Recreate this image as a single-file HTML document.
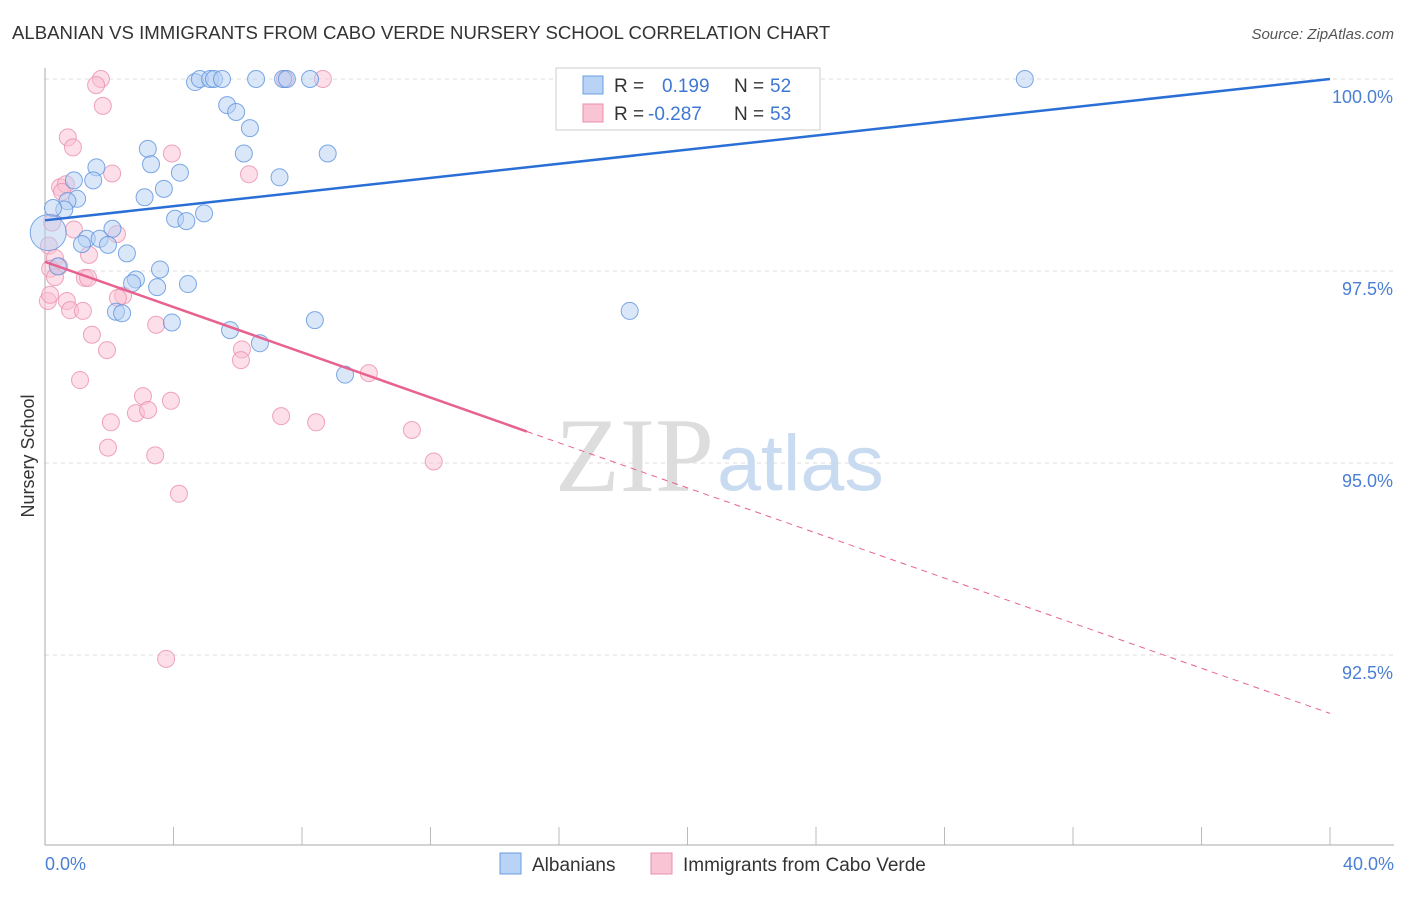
<!DOCTYPE html>
<html><head><meta charset="utf-8"><style>
body{margin:0;background:#fff;font-family:"Liberation Sans",sans-serif;}
</style></head><body>
<svg width="1406" height="892" xmlns="http://www.w3.org/2000/svg">
<text x="12" y="39" font-size="18.6" fill="#333">ALBANIAN VS IMMIGRANTS FROM CABO VERDE NURSERY SCHOOL CORRELATION CHART</text>
<text x="1394" y="39" font-size="15" fill="#555" font-style="italic" text-anchor="end">Source: ZipAtlas.com</text>
<g id="grid"></g>
<text x="714" y="491" font-size="106" fill="#ddd" font-family="Liberation Serif,serif" text-anchor="end">ZIP</text>
<text x="717" y="490" font-size="79" fill="#c9dbf0">atlas</text>
<line x1="45" y1="68" x2="45" y2="845" stroke="#aaa"/>
<line x1="45" y1="845" x2="1394" y2="845" stroke="#aaa"/>
<text x="34" y="456" font-size="18" fill="#333" transform="rotate(-90 34 456)" text-anchor="middle">Nursery School</text>
<text x="45" y="870" font-size="18" fill="#4a7fd4">0.0%</text>
<text x="1394" y="870" font-size="18" fill="#4a7fd4" text-anchor="end">40.0%</text>
<g id="pts"></g>
<g id="lines"></g>
<g>
<rect x="556" y="68" width="264" height="62" fill="#fff" stroke="#ccc"/>
<rect x="583" y="76" width="20" height="18" fill="#b8d3f5" stroke="#6a9ee0"/>
<rect x="583" y="104" width="20" height="18" fill="#f9c5d5" stroke="#ea8fae"/>
<text x="614" y="92" font-size="19" fill="#333">R =</text><text x="662" y="92" font-size="19" fill="#3f78d4">0.199</text>
<text x="734" y="92" font-size="19" fill="#333">N =</text><text x="770" y="92" font-size="19" fill="#3f78d4">52</text>
<text x="614" y="120" font-size="19" fill="#333">R =</text><text x="648" y="120" font-size="19" fill="#3f78d4">-0.287</text>
<text x="734" y="120" font-size="19" fill="#333">N =</text><text x="770" y="120" font-size="19" fill="#3f78d4">53</text>
</g>
<g>
<rect x="500" y="853" width="21" height="21" fill="#b8d3f5" stroke="#6a9ee0"/>
<text x="532" y="871" font-size="19" fill="#333">Albanians</text>
<rect x="651" y="853" width="21" height="21" fill="#f9c5d5" stroke="#ea8fae"/>
<text x="683" y="871" font-size="19" fill="#333">Immigrants from Cabo Verde</text>
</g>
</svg>
<script>
const yTicks=[100,97.5,95,92.5];
const yTickLabels=["100.0%","97.5%","95.0%","92.5%"];
const blueX=[4.67,4.82,5.14,5.26,5.51,6.57,7.41,7.53,8.25,30.5,5.67,5.95,6.38,3.2,6.19,3.3,8.8,1.6,4.2,7.3,0.9,1.5,3.7,3.1,1.0,0.7,0.6,0.25,4.95,4.05,4.4,2.1,1.3,1.7,1.15,1.96,2.55,0.1,3.58,2.83,0.4,2.71,3.49,4.45,2.21,2.4,18.2,3.95,8.4,5.76,6.69,9.34];
const blueY=[99.96,100,100,100,100,100,100,100,100,100,99.66,99.57,99.36,99.09,99.03,98.89,99.03,98.85,98.78,98.72,98.68,98.68,98.57,98.46,98.44,98.41,98.3,98.32,98.25,98.18,98.15,98.05,97.92,97.92,97.85,97.84,97.73,98.0,97.52,97.39,97.56,97.34,97.29,97.33,96.97,96.95,96.98,96.83,96.86,96.73,96.56,96.15];
const pinkX=[1.74,1.59,8.65,7.47,1.8,0.71,0.87,3.95,6.35,2.09,0.47,0.65,0.53,0.22,0.9,2.24,0.12,0.31,1.37,0.44,0.16,1.24,1.34,0.31,2.43,2.27,0.68,0.09,0.16,0.78,1.18,1.46,3.46,1.93,6.13,6.1,10.08,1.09,3.05,2.05,2.83,3.21,3.92,7.35,8.44,11.42,1.96,3.43,12.1,4.17,3.77];
const pinkY=[100,99.92,100,100,99.65,99.24,99.11,99.03,98.76,98.77,98.59,98.63,98.53,98.13,98.04,97.98,97.83,97.67,97.71,97.56,97.53,97.41,97.41,97.42,97.18,97.15,97.11,97.11,97.19,96.99,96.98,96.67,96.8,96.47,96.48,96.34,96.17,96.08,95.87,95.53,95.65,95.69,95.81,95.61,95.53,95.43,95.2,95.1,95.02,94.6,92.45];
const blueTrend=[0,98.16,40,100];
const pinkTrend=[0,97.62,15,95.41,40,91.74];
const X=v=>45+v/40*1285, Y=v=>79+(100-v)/2.5*192;
const NS="http://www.w3.org/2000/svg";
const grid=document.getElementById('grid');
yTicks.forEach((t,i)=>{
 const l=document.createElementNS(NS,'line');
 l.setAttribute('x1',45);l.setAttribute('x2',1394);l.setAttribute('y1',Y(t));l.setAttribute('y2',Y(t));
 l.setAttribute('stroke','#ddd');l.setAttribute('stroke-dasharray','4,4');
 
 
 grid.appendChild(l);
 const tx=document.createElementNS(NS,'text');
 tx.setAttribute('x',1393);tx.setAttribute('y',Y(t)+24);tx.setAttribute('text-anchor','end');
 tx.setAttribute('font-size','18');tx.setAttribute('fill','#4a7fd4');tx.textContent=yTickLabels[i];
 
 
 grid.appendChild(tx);
});
for(let i=1;i<=10;i++){
 const l=document.createElementNS(NS,'line');const x=45+i*128.5;
 l.setAttribute('x1',x);l.setAttribute('x2',x);l.setAttribute('y1',827);l.setAttribute('y2',845);l.setAttribute('stroke','#bbb');
 
 
 grid.appendChild(l);
}
const pts=document.getElementById('pts');
function dot(x,y,r,fill,stroke,name){
 const c=document.createElementNS(NS,'circle');
 c.setAttribute('cx',X(x));c.setAttribute('cy',Y(y));c.setAttribute('r',r);
 c.setAttribute('fill',fill);c.setAttribute('fill-opacity','0.5');c.setAttribute('stroke',stroke);c.setAttribute('stroke-opacity','0.8');
 
 
 pts.appendChild(c);
}
pinkX.forEach((x,i)=>dot(x,pinkY[i],8.5,'#f9c0d2','#eb8fae','cabo-verde-point'));
blueX.forEach((x,i)=>dot(x,blueY[i],i==37?18:8.5,'#b5d0f3','#5c93df','albanian-point'));
const lines=document.getElementById('lines');
function ln(x1,y1,x2,y2,col,w,dash,name){
 const l=document.createElementNS(NS,'line');
 l.setAttribute('x1',X(x1));l.setAttribute('y1',Y(y1));l.setAttribute('x2',X(x2));l.setAttribute('y2',Y(y2));
 l.setAttribute('stroke',col);l.setAttribute('stroke-width',w);if(dash)l.setAttribute('stroke-dasharray',dash);
 
 
 lines.appendChild(l);
}
ln(blueTrend[0],blueTrend[1],blueTrend[2],blueTrend[3],'#2a6fd6',2.5,null,'albanian-trend-line');
ln(pinkTrend[0],pinkTrend[1],pinkTrend[2],pinkTrend[3],'#e8628f',2.5,null,'cabo-verde-trend-line');
ln(pinkTrend[2],pinkTrend[3],pinkTrend[4],pinkTrend[5],'#e8628f',1,'6,5','cabo-verde-trend-extension');
</script>
</body></html>
